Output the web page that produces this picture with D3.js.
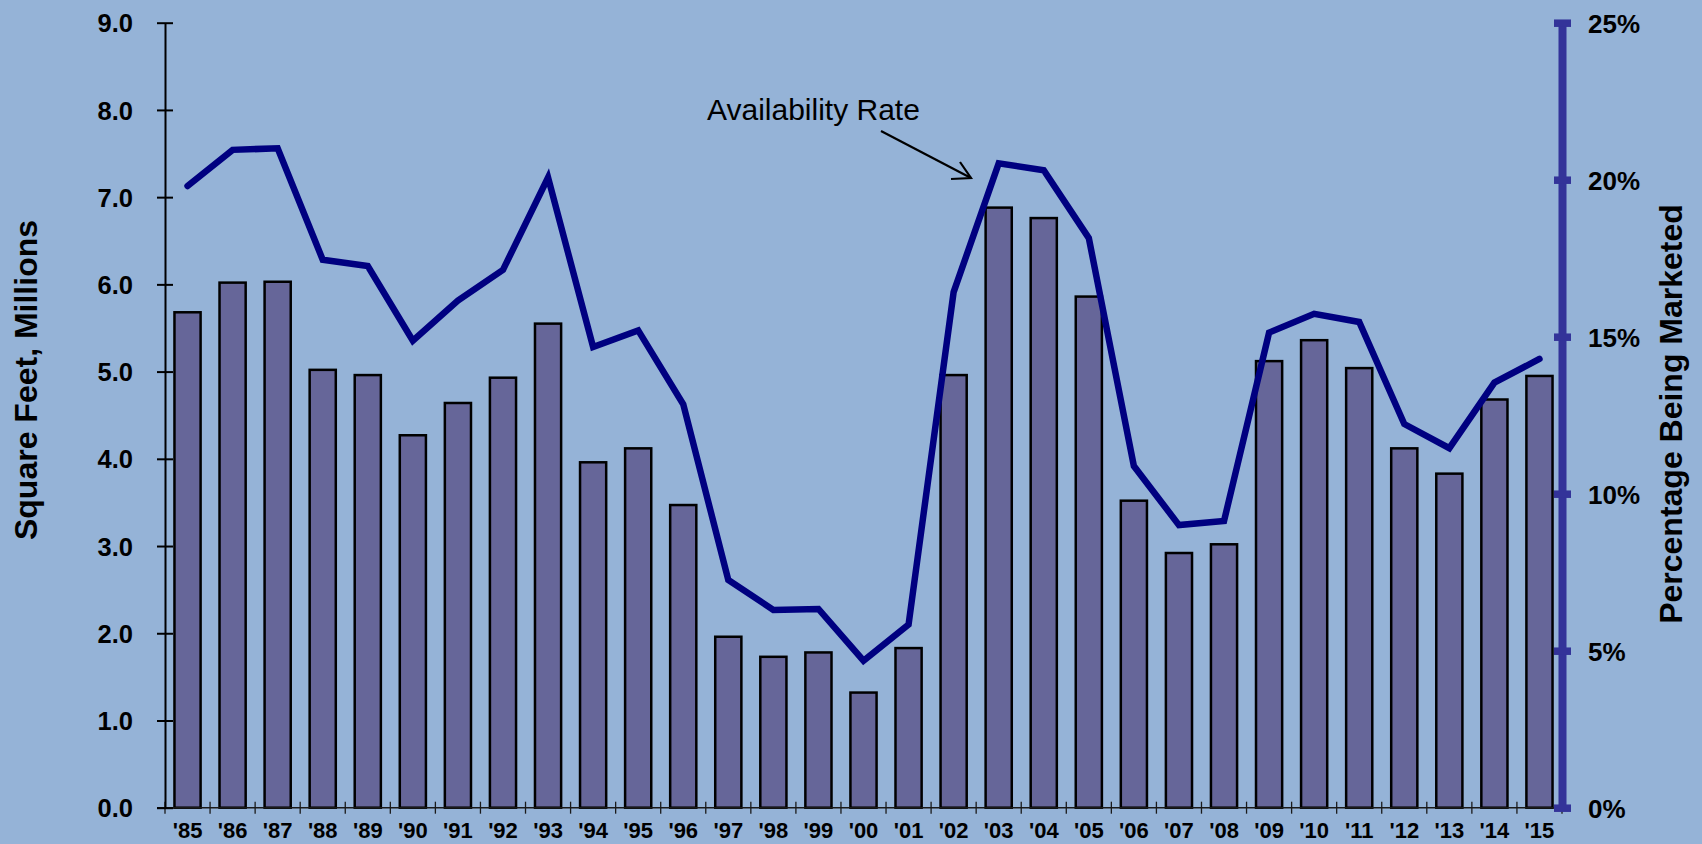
<!DOCTYPE html>
<html>
<head>
<meta charset="utf-8">
<script src="https://cdn.jsdelivr.net/npm/d3@7"></script>
<style>
  html, body { margin: 0; padding: 0; background: #95B3D7; }
  svg { display: block; }
  text { font-family: "Liberation Sans", Arial, sans-serif; }
</style>
</head>
<body>
<svg id="chart" width="1702" height="844"></svg>
<script>
// Years shown on the category axis
const years = ["'85","'86","'87","'88","'89","'90","'91","'92","'93","'94","'95","'96","'97","'98","'99",
               "'00","'01","'02","'03","'04","'05","'06","'07","'08","'09","'10","'11","'12","'13","'14","'15"];

// Square feet being marketed, millions (bars, left axis)
const sqFeet = [5.68, 6.02, 6.03, 5.02, 4.96, 4.27, 4.64, 4.93, 5.55, 3.96, 4.12, 3.47, 1.96, 1.73, 1.78,
                1.32, 1.83, 4.96, 6.88, 6.76, 5.86, 3.52, 2.92, 3.02, 5.12, 5.36, 5.04, 4.12, 3.83, 4.68, 4.95];

// Availability rate, percent being marketed (line, right axis)
const availRate = [19.8, 20.95, 21.0, 17.45, 17.25, 14.87, 16.15, 17.13, 20.07, 14.67, 15.2, 12.85, 7.25, 6.3, 6.33,
                   4.68, 5.83, 16.42, 20.52, 20.3, 18.14, 10.88, 9.0, 9.13, 15.13, 15.73, 15.47, 12.22, 11.45, 13.54, 14.29];

// Axis tick values
const leftTicks = [0, 1, 2, 3, 4, 5, 6, 7, 8, 9];
const rightTicks = [0, 5, 10, 15, 20, 25];

const svg = d3.select("#chart");
const W = 1702, H = 844;
const plot = { left: 165, right: 1562, top: 22.7, bottom: 807.7 };

svg.append("rect").attr("width", W).attr("height", H).attr("fill", "#95B3D7");

const x = d3.scaleBand()
  .domain(years)
  .range([plot.left, plot.right])
  .paddingInner(0.42)
  .paddingOuter(0.21);

const yL = d3.scaleLinear().domain([0, 9]).range([plot.bottom, plot.top]);
const yR = d3.scaleLinear().domain([0, 25]).range([plot.bottom, plot.top]);

// Bars
svg.append("g")
  .selectAll("rect")
  .data(sqFeet)
  .join("rect")
  .attr("x", (d, i) => x(years[i]))
  .attr("y", d => yL(d))
  .attr("width", x.bandwidth())
  .attr("height", d => yL(0) - yL(d))
  .attr("fill", "#666699")
  .attr("stroke", "#000")
  .attr("stroke-width", 2.5);

// Category axis: baseline, boundary ticks and year labels
const step = x.step();
const gx = svg.append("g").attr("class", "x-axis");
gx.append("line")
  .attr("x1", plot.left - 8).attr("x2", plot.right)
  .attr("y1", plot.bottom).attr("y2", plot.bottom)
  .attr("stroke", "#1a1a1a").attr("stroke-width", 1.5);
gx.selectAll("line.tick")
  .data(d3.range(years.length + 1))
  .join("line")
  .attr("class", "tick")
  .attr("x1", i => x(years[0]) - step * x.paddingOuter() + i * step)
  .attr("x2", i => x(years[0]) - step * x.paddingOuter() + i * step)
  .attr("y1", plot.bottom - 6).attr("y2", plot.bottom + 6)
  .attr("stroke", "#1a1a1a").attr("stroke-width", 1.3);

const xAxis = d3.axisBottom(x).tickSize(0).tickPadding(0);
const gxl = svg.append("g")
  .attr("transform", `translate(0,${plot.bottom})`)
  .call(xAxis);
gxl.select(".domain").remove();
gxl.selectAll("text")
  .attr("y", 30.5)
  .attr("dy", null)
  .attr("fill", "#000")
  .style("font-size", "22px")
  .style("font-weight", "bold");

// Left axis
const gl = svg.append("g")
  .attr("transform", `translate(${plot.left},0)`)
  .call(d3.axisLeft(yL).tickValues(leftTicks).tickFormat(d3.format(".1f")).tickSize(8).tickPadding(24).tickSizeOuter(0));
gl.select(".domain").attr("stroke", "#000").attr("stroke-width", 2);
gl.selectAll(".tick line").attr("x1", -8).attr("x2", 8).attr("stroke", "#000").attr("stroke-width", 2);
gl.selectAll(".tick text")
  .attr("fill", "#000")
  .attr("dy", "0.36em")
  .style("font-size", "25.5px")
  .style("font-weight", "bold");

// Right axis
const gr = svg.append("g")
  .attr("transform", `translate(${plot.right},0)`)
  .call(d3.axisRight(yR).tickValues(rightTicks).tickFormat(d => d + "%").tickSize(9).tickPadding(17).tickSizeOuter(0));
gr.select(".domain").attr("stroke", "#333399").attr("stroke-width", 8);
gr.selectAll(".tick line").attr("x1", -8).attr("x2", 9).attr("stroke", "#333399").attr("stroke-width", 7.5);
gr.selectAll(".tick text")
  .attr("fill", "#000")
  .attr("dy", "0.36em")
  .style("font-size", "26px")
  .style("font-weight", "bold");

// Availability rate line
const line = d3.line()
  .x((d, i) => x(years[i]) + x.bandwidth() / 2)
  .y(d => yR(d));
svg.append("path")
  .datum(availRate)
  .attr("d", line)
  .attr("fill", "none")
  .attr("stroke", "#000080")
  .attr("stroke-width", 6.5)
  .attr("stroke-linecap", "round")
  .attr("stroke-linejoin", "miter");

// Axis titles
svg.append("text")
  .attr("transform", "translate(37,380) rotate(-90)")
  .attr("text-anchor", "middle")
  .style("font-size", "32px")
  .style("font-weight", "bold")
  .text("Square Feet, Millions");

svg.append("text")
  .attr("transform", "translate(1682,414) rotate(-90)")
  .attr("text-anchor", "middle")
  .style("font-size", "32px")
  .style("font-weight", "bold")
  .text("Percentage Being Marketed");

// Annotation with arrow pointing at the line
svg.append("text")
  .attr("x", 707)
  .attr("y", 120)
  .style("font-size", "30px")
  .text("Availability Rate");

const ann = svg.append("g").attr("stroke", "#000").attr("stroke-width", 2.2).attr("fill", "none");
ann.append("line").attr("x1", 881).attr("y1", 131).attr("x2", 971).attr("y2", 178);
ann.append("polyline").attr("points", "951,179 971,178 960,162");
</script>
</body>
</html>
